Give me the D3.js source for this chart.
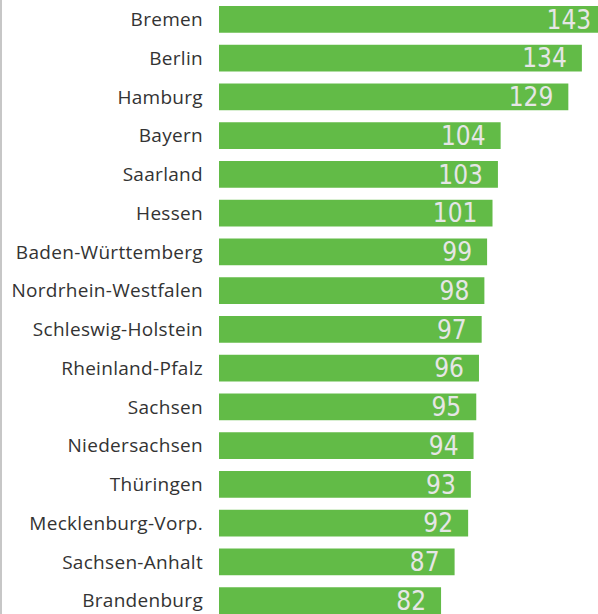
<!DOCTYPE html>
<html>
<head>
  <meta charset="UTF-8">
  <script src="https://d3js.org/d3.v7.min.js"></script>
  <style>
    body { margin: 0; background: #fff; }
  </style>
</head>
<body>
  <svg width=598 height=614></svg>
  <script>
    // Data
    const states = ['Bremen', 'Berlin', 'Hamburg', 'Bayern', 'Saarland', 'Hessen',
      'Baden-Württemberg', 'Nordrhein-Westfalen', 'Schleswig-Holstein', 'Rheinland-Pfalz',
      'Sachsen', 'Niedersachsen', 'Thüringen', 'Mecklenburg-Vorp.', 'Sachsen-Anhalt', 'Brandenburg'];
    const values = [143, 134, 129, 104, 103, 101, 99, 98, 97, 96, 95, 94, 93, 92, 87, 82];

    const width = 598, height = 614;
    const svg = d3.select('svg');

    // Scales
    const xScale = d3.scaleLinear().domain([0, 100]).range([219, 489.8]);
    const yScale = d3.scaleBand().domain(states).range([0, 620])
      .paddingInner(0.31).paddingOuter(0.155);

    // Left border line
    svg.append('line')
      .attr('x1', 1).attr('x2', 1)
      .attr('y1', 0).attr('y2', height)
      .attr('stroke', '#b4b4b4')
      .attr('stroke-width', 1.5);

    const rows = svg.selectAll('g.row')
      .data(states)
      .enter()
      .append('g')
      .attr('class', 'row');

    // Bars
    rows.append('rect')
      .attr('x', xScale(0))
      .attr('y', d => yScale(d))
      .attr('width', (d, i) => xScale(values[i]) - xScale(0))
      .attr('height', yScale.bandwidth())
      .attr('fill', '#62bb47');

    // Category labels
    rows.append('text')
      .attr('x', 203)
      .attr('y', d => yScale(d) + yScale.bandwidth() / 2)
      .attr('dy', '0.35em')
      .attr('text-anchor', 'end')
      .attr('font-family', 'Open Sans, Noto Sans, sans-serif')
      .attr('font-size', '19px')
      .attr('letter-spacing', '0.3px')
      .attr('fill', '#333')
      .text(d => d);

    // Value labels
    rows.append('text')
      .attr('x', (d, i) => xScale(values[i]) - 15)
      .attr('y', d => yScale(d) + yScale.bandwidth() / 2)
      .attr('dy', '0.36em')
      .attr('text-anchor', 'end')
      .attr('font-family', 'Liberation Sans Narrow, DejaVu Sans Condensed, sans-serif')
      .attr('font-size', '26px')
      .attr('fill', '#e6e6e6')
      .text((d, i) => values[i]);
  </script>
</body>
</html>
